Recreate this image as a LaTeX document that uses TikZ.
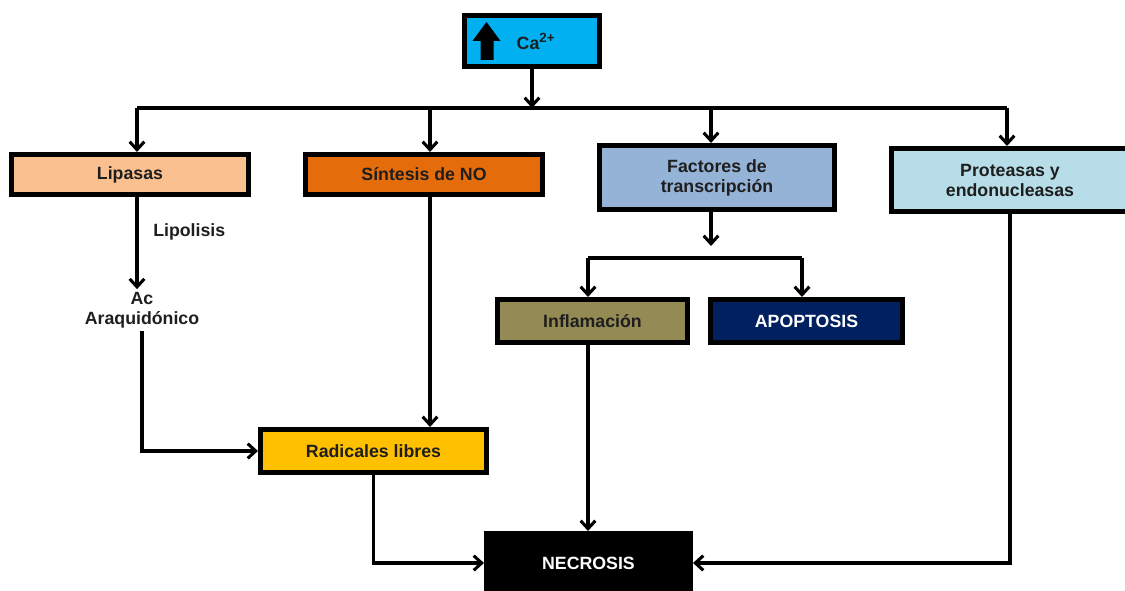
\documentclass[tikz,border=0pt]{standalone}
\usepackage{fontspec}
\setmainfont{Liberation Sans}
\usetikzlibrary{arrows.meta,shadows}

\definecolor{caBlue}{HTML}{00B0F0}
\definecolor{lipFill}{HTML}{FAC090}
\definecolor{noFill}{HTML}{E46C0A}
\definecolor{facFill}{HTML}{95B3D7}
\definecolor{proFill}{HTML}{B7DEE8}
\definecolor{infFill}{HTML}{948A54}
\definecolor{apoFill}{HTML}{002060}
\definecolor{radFill}{HTML}{FFC000}
\definecolor{inkText}{HTML}{1E1E1E}

\begin{document}
\begin{tikzpicture}[x=0.75pt,y=-0.75pt,
  txt/.style={font=\fontsize{13.3}{15}\selectfont\bfseries, text=inkText, align=center},
  box/.style={txt, draw=black, line width=3.8pt, inner sep=0pt,
    drop shadow={shadow xshift=1.2pt, shadow yshift=-1.2pt, opacity=0.35, fill=black}},
  link/.style={line width=2.3pt, line cap=butt},
  arr/.style={link, -{Straight Barb[length=6pt,width=11pt,line width=2.3pt]}}]

\useasboundingbox (0,0) rectangle (1125,591);

% boxes
\node[box, fill=caBlue, minimum width=101.2pt, minimum height=38.2pt] (ca) at (532,41) {\hspace*{6pt}Ca\textsuperscript{\fontsize{10}{10}\selectfont 2+}};
\fill[black] (486.5,22) -- (500.5,41) -- (493.5,41) -- (493.5,60) -- (480.5,60) -- (480.5,41) -- (472.5,41) -- cycle;

\node[box, fill=lipFill, minimum width=177.7pt, minimum height=30pt] (lip) at (130,174.5) {Lipasas};
\node[box, fill=noFill, minimum width=177.7pt, minimum height=30pt] (no) at (424,174.5) {Síntesis de NO};
\node[box, fill=facFill, minimum width=176.2pt, minimum height=48pt] (fac) at (717,177.5) {Factores de\\transcripción};
\node[box, fill=proFill, minimum width=177.7pt, minimum height=47.2pt] (pro) at (1010,180) {Proteasas y\\endonucleasas};
\node[box, fill=infFill, minimum width=142.5pt, minimum height=32.2pt] (inf) at (592.5,321) {Inflamación};
\node[box, fill=apoFill, text=white, minimum width=144pt, minimum height=32.2pt] (apo) at (806.5,321) {APOPTOSIS};
\node[box, fill=radFill, minimum width=169.5pt, minimum height=32.2pt] (rad) at (373.5,451) {Radicales libres};
\node[box, fill=black, text=white, minimum width=153pt, minimum height=44.2pt] (nec) at (588.5,563) {NECROSIS};

% free labels
\node[txt, anchor=west, inner sep=0pt] (lipo) at (153,232) {Lipolisis};
\node[txt, inner sep=2pt] (araq) at (142,310) {Ac\\Araquidónico};

% branching points
\coordinate (busC) at (532,108);
\coordinate (busL) at (137,108);
\coordinate (busNO) at (430,108);
\coordinate (busF) at (711,108);
\coordinate (busP) at (1007,108);
\coordinate (facTip) at (711,246);
\coordinate (b2L) at (588,258);
\coordinate (b2R) at (802,258);

% connectors
\draw[arr] (ca.south) -- (busC);
\draw[link] (busL) -- (busP);
\draw[arr] (busL) -- (lip.north -| busL);
\draw[arr] (busNO) -- (no.north -| busNO);
\draw[arr] (busF) -- (fac.north -| busF);
\draw[arr] (busP) -- (pro.north -| busP);

\draw[arr] (lip.south -| busL) -- (araq.north -| busL);
\draw[arr] (araq.south) -- (araq.south |- rad.west) -- (rad.west);
\draw[arr] (no.south -| busNO) -- (rad.north -| busNO);

\draw[arr] (fac.south -| facTip) -- (facTip);
\draw[link] (b2L) -- (b2R);
\draw[arr] (b2L) -- (inf.north -| b2L);
\draw[arr] (b2R) -- (apo.north -| b2R);

\draw[arr] (inf.south -| b2L) -- (nec.north -| b2L);
\draw[arr] (rad.south) -- (rad.south |- nec.west) -- (nec.west);
\draw[arr] (pro.south) -- (pro.south |- nec.east) -- (nec.east);
\end{tikzpicture}
\end{document}
